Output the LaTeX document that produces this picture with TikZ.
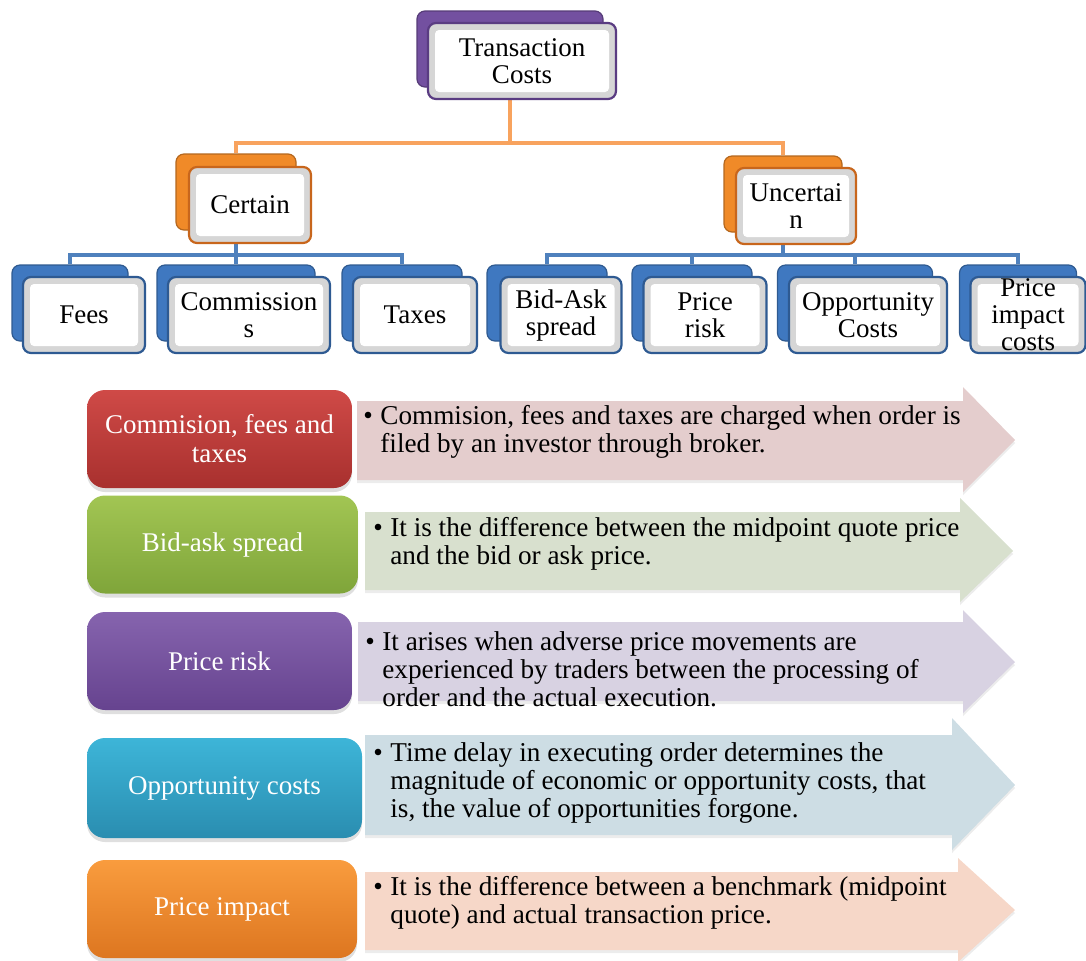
\documentclass[tikz,border=0pt]{standalone}
\usepackage{fontspec}
\setmainfont{Liberation Serif}
\usepackage{tikz}
\usetikzlibrary{backgrounds,calc,shadows}

\definecolor{tcpurple}{HTML}{7350A0}
\definecolor{tcpurpleD}{HTML}{5A3C82}
\definecolor{catorange}{HTML}{F08A28}
\definecolor{catorangeD}{HTML}{C8661C}
\definecolor{leafblue}{HTML}{3F78C0}
\definecolor{leafblueD}{HTML}{2E5A92}
\definecolor{lineorange}{HTML}{F8A35E}
\definecolor{lineblue}{HTML}{4F81BD}
\definecolor{redT}{HTML}{CF4A47}
\definecolor{redB}{HTML}{A8302E}
\definecolor{redA}{HTML}{E4CDCD}
\definecolor{greenT}{HTML}{A2C553}
\definecolor{greenB}{HTML}{7FA53A}
\definecolor{greenA}{HTML}{D8E0CE}
\definecolor{purpT}{HTML}{8664AE}
\definecolor{purpB}{HTML}{66438F}
\definecolor{purpA}{HTML}{D8D2E2}
\definecolor{tealT}{HTML}{3DB5D8}
\definecolor{tealB}{HTML}{2A8DB0}
\definecolor{tealA}{HTML}{CDDDE4}
\definecolor{orgT}{HTML}{F99C3E}
\definecolor{orgB}{HTML}{DD7620}
\definecolor{orgA}{HTML}{F6D7C8}

\begin{document}
\begin{tikzpicture}[x=0.5pt,y=-0.5pt,
  backbox/.style={fill=#1, draw=#1!75!black, line width=0.6pt, rounded corners=4pt,
    inner sep=0pt, minimum height=38pt},
  frontbox/.style={draw=#1, line width=1.1pt, fill=black!16, rounded corners=4pt,
    inner sep=0pt, minimum height=38pt, align=center, font=\fontsize{13.5}{13.5}\selectfont,
    path picture={\fill[white, rounded corners=2pt]
      ([shift={(3.5pt,-3.5pt)}]path picture bounding box.north west) rectangle
      ([shift={(-3.5pt,3.5pt)}]path picture bounding box.south east);}},
  rowbox/.style={rounded corners=9pt, inner sep=0pt, minimum height=49pt, align=center,
    text=white, font=\fontsize{13.5}{14.5}\selectfont,
    drop shadow={opacity=0.25,shadow xshift=0pt,shadow yshift=-2pt}},
  arrowbody/.style={fill=#1, drop shadow={opacity=0.15,shadow xshift=0pt,shadow yshift=-1.5pt}},
  note/.style={inner sep=0pt, align=left, anchor=west, font=\fontsize{13.6}{14}\selectfont},
  orangeline/.style={draw=lineorange, line width=2.2pt},
  blueline/.style={draw=lineblue, line width=2.2pt}]
\useasboundingbox (0,0) rectangle (1086,960);

% hierarchy
\node[backbox=tcpurple, minimum width=93pt] (tcB) at (510,49) {};
\node[frontbox=tcpurpleD, minimum width=94pt] (tc) at (522,61) {Transaction\\Costs};

\node[backbox=catorange, minimum width=60pt] (cerB) at (236,192) {};
\node[frontbox=catorangeD, minimum width=61pt] (cer) at (250,205) {Certain};
\node[backbox=catorange, minimum width=59pt] (uncB) at (783,194) {};
\node[frontbox=catorangeD, minimum width=60pt] (unc) at (796,206) {Uncertai\\n};

\node[backbox=leafblue, minimum width=58pt] (feesB) at (70,303) {};
\node[frontbox=leafblueD, minimum width=61pt] (fees) at (84,315) {Fees};
\node[backbox=leafblue, minimum width=79pt] (comB) at (236,303) {};
\node[frontbox=leafblueD, minimum width=81pt] (com) at (249,315) {Commission\\s};
\node[backbox=leafblue, minimum width=60pt] (taxB) at (402,303) {};
\node[frontbox=leafblueD, minimum width=62pt] (tax) at (415,315) {Taxes};

\node[backbox=leafblue, minimum width=60pt] (bidB) at (547,303) {};
\node[frontbox=leafblueD, minimum width=60.5pt] (bid) at (561,315) {Bid-Ask\\spread};
\node[backbox=leafblue, minimum width=60pt] (riskB) at (692,303) {};
\node[frontbox=leafblueD, minimum width=61.5pt] (risk) at (705,315) {Price\\risk};
\node[backbox=leafblue, minimum width=77.5pt] (oppB) at (855,303) {};
\node[frontbox=leafblueD, minimum width=79pt] (opp) at (868,315) {Opportunity\\Costs};
\node[backbox=leafblue, minimum width=58.5pt] (impB) at (1018,303) {};
\node[frontbox=leafblueD, minimum width=57.5pt] (imp) at (1028,315) {Price\\impact\\costs};

\coordinate (tcJ) at (510,143);
\coordinate (cerJ) at (236,255);
\coordinate (uncJ) at (783,255);

\begin{scope}[on background layer]
\draw[orangeline] (tcB.south) -- (tcJ) -| (cerB.north) (tcJ) -| (uncB.north);
\draw[blueline] (cerB.south) -- (cerJ) -| (feesB.north) (cerJ) -| (taxB.north) (cerJ) -- (comB.north);
\draw[blueline] (uncB.south) -- (uncJ) -| (bidB.north) (uncJ) -| (riskB.north)
  (uncJ) -| (oppB.north) (uncJ) -| (impB.north);
\end{scope}

% rows
\node[rowbox, top color=redT, bottom color=redB, minimum width=132.5pt] (feeL) at (219.5,439) {Commision, fees and\\taxes};
\fill[arrowbody=redA] (357,401) -- (963,401) -- (963,387) -- (1015,440) -- (963,492) -- (963,480) -- (357,480) -- cycle;
\node[note] (feeN) at (363,432) {\makebox[8.5pt][l]{\textbullet}Commision, fees and taxes are charged when order is\\\hspace*{8.5pt}filed by an investor through broker.};

\node[rowbox, top color=greenT, bottom color=greenB, minimum width=135.5pt] (bidL) at (222.5,544.5) {Bid-ask spread};
\fill[arrowbody=greenA] (365,512) -- (960,512) -- (960,498) -- (1013,551) -- (960,602) -- (960,590) -- (365,590) -- cycle;
\node[note] (bidN) at (373,544) {\makebox[8.5pt][l]{\textbullet}It is the difference between the midpoint quote price\\\hspace*{8.5pt}and the bid or ask price.};

\node[rowbox, top color=purpT, bottom color=purpB, minimum width=132.5pt] (riskL) at (219.5,661) {Price risk};
\fill[arrowbody=purpA] (358,622) -- (963,622) -- (963,610) -- (1015,662) -- (963,713) -- (963,701) -- (358,701) -- cycle;
\node[note] (riskN) at (365,669) {\makebox[8.5pt][l]{\textbullet}It arises when adverse price movements are\\\hspace*{8.5pt}experienced by traders between the processing of\\\hspace*{8.5pt}order and the actual execution.};

\node[rowbox, top color=tealT, bottom color=tealB, minimum width=137.5pt, minimum height=50pt] (oppL) at (224.5,788) {Opportunity costs};
\fill[arrowbody=tealA] (365,735) -- (952,735) -- (952,718) -- (1015,785) -- (952,850) -- (952,835) -- (365,835) -- cycle;
\node[note] (oppN) at (373,783) {\makebox[8.5pt][l]{\textbullet}Time delay in executing order determines the\\\hspace*{8.5pt}magnitude of economic or opportunity costs, that\\\hspace*{8.5pt}is, the value of opportunities forgone.};

\node[rowbox, top color=orgT, bottom color=orgB, minimum width=135pt] (impL) at (222,909) {Price impact};
\fill[arrowbody=orgA] (365,872) -- (958,872) -- (958,858) -- (1015,910) -- (958,962) -- (958,950) -- (365,950) -- cycle;
\node[note] (impN) at (373,903) {\makebox[8.5pt][l]{\textbullet}It is the difference between a benchmark (midpoint\\\hspace*{8.5pt}quote) and actual transaction price.};
\end{tikzpicture}
\end{document}
